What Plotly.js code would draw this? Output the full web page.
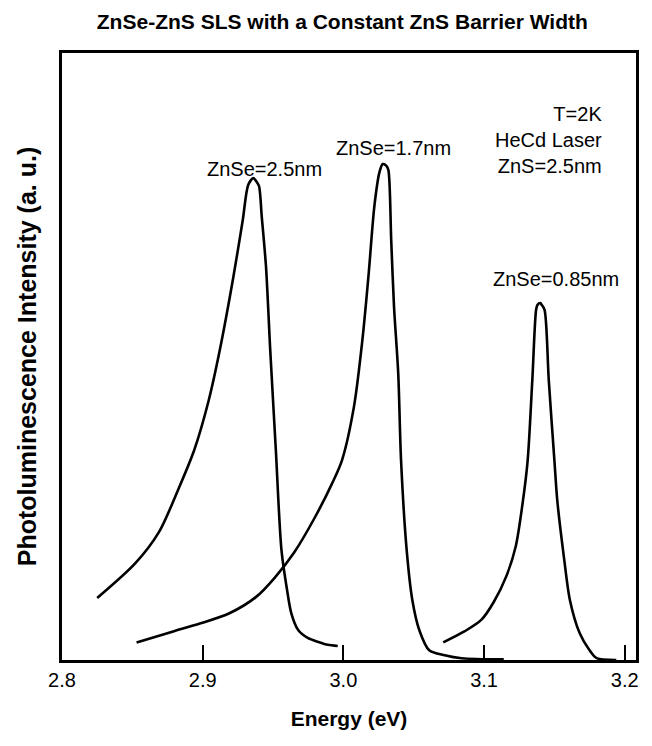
<!DOCTYPE html>
<html>
<head>
<meta charset="utf-8">
<script src="https://cdn.plot.ly/plotly-3.0.1.min.js"></script>
<style>html,body{margin:0;padding:0;background:#fff}#chart{width:652px;height:746px}</style>
</head>
<body>
<div id="chart"></div>
<script>
// Energy (eV) and PL intensity (a.u.)
const energy_25nm = [2.825, 2.852, 2.869, 2.883, 2.894, 2.9043, 2.9122, 2.9218, 2.9285, 2.9324, 2.936, 2.938, 2.940, 2.942, 2.945, 2.948, 2.952, 2.956, 2.960, 2.963, 2.968, 2.975, 2.982, 2.989, 2.996];
const pl_25nm     = [10.2, 15.9, 21.1, 28.3, 34.6, 42.8, 51.1, 63.1, 72.5, 78.3, 79.4, 78.9, 78.1, 73.0, 64.8, 51.1, 34.6, 18.1, 11.5, 7.7, 4.9, 3.6, 3.0, 2.5, 2.3];

const energy_17nm = [2.853, 2.879, 2.898, 2.919, 2.938, 2.951, 2.965, 2.980, 2.992, 2.999, 3.0075, 3.0135, 3.018, 3.022, 3.0257, 3.028, 3.0306, 3.032, 3.034, 3.036, 3.039, 3.041, 3.045, 3.049, 3.054, 3.061, 3.072, 3.084, 3.114];
const pl_17nm     = [2.9, 4.7, 6.0, 7.7, 10.4, 13.5, 17.7, 23.6, 29.1, 32.9, 41.7, 52.7, 63.7, 74.7, 80.4, 81.7, 81.4, 80.7, 69.2, 58.2, 47.2, 32.9, 18.1, 9.9, 4.9, 1.6, 0.8, 0.3, 0.1];

const energy_085nm = [3.071, 3.086, 3.098, 3.107, 3.116, 3.1225, 3.1275, 3.131, 3.1343, 3.137, 3.138, 3.140, 3.141, 3.143, 3.146, 3.150, 3.152, 3.157, 3.161, 3.168, 3.175, 3.180, 3.194];
const pl_085nm     = [2.9, 4.7, 6.6, 9.6, 13.9, 18.7, 26.0, 32.9, 46.1, 57.7, 58.5, 58.8, 58.5, 57.7, 46.1, 32.9, 26.4, 16.5, 9.9, 4.4, 1.6, 0.3, 0.0];

const tickValues = [2.8, 2.9, 3.0, 3.1, 3.2];
const tickLabels = ["2.8", "2.9", "3.0", "3.1", "3.2"];

const FONT = "Liberation Sans, Arial, Helvetica, sans-serif";
const lineStyle = {color: "#000", width: 2.6, shape: "spline", smoothing: 0.8};

const traces = [
  {x: energy_25nm, y: pl_25nm, mode: "lines", line: lineStyle, name: "ZnSe=2.5nm"},
  {x: energy_17nm, y: pl_17nm, mode: "lines", line: lineStyle, name: "ZnSe=1.7nm"},
  {x: energy_085nm, y: pl_085nm, mode: "lines", line: lineStyle, name: "ZnSe=0.85nm"}
];

const layout = {
  width: 652, height: 746,
  margin: {l: 62, r: 16, t: 53, b: 86},
  paper_bgcolor: "#fff", plot_bgcolor: "#fff",
  showlegend: false,
  font: {family: FONT, color: "#000", size: 20},
  title: {text: "<b>ZnSe-ZnS SLS with a Constant ZnS Barrier Width</b>", font: {family: FONT, size: 21, color: "#000"}, x: 0.525, xanchor: "center", y: 0.971, yanchor: "middle"},
  xaxis: {
    range: [2.8, 3.208], tickvals: tickValues, ticktext: tickLabels,
    ticks: "inside", ticklen: 15, tickwidth: 2, tickcolor: "#000",
    showline: true, linewidth: 3, linecolor: "#000", mirror: true,
    showgrid: false, zeroline: false,
    tickfont: {family: FONT, size: 20, color: "#000"},
    title: {text: "<b>Energy (eV)</b>", font: {family: FONT, size: 21, color: "#000"}, standoff: 22}
  },
  yaxis: {
    range: [0, 100], showticklabels: false, ticks: "",
    showline: true, linewidth: 3, linecolor: "#000", mirror: true,
    showgrid: false, zeroline: false,
    title: {text: "<b>Photoluminescence Intensity (a. u.)</b>", font: {family: FONT, size: 25, color: "#000"}, standoff: 16}
  },
  annotations: [
    {x: 2.944, y: 80.9, xref: "x", yref: "y", text: "ZnSe=2.5nm", showarrow: false, xanchor: "center", yanchor: "middle", font: {family: FONT, size: 20, color: "#000"}},
    {x: 3.0356, y: 84.3, xref: "x", yref: "y", text: "ZnSe=1.7nm", showarrow: false, xanchor: "center", yanchor: "middle", font: {family: FONT, size: 20, color: "#000"}},
    {x: 3.1513, y: 62.8, xref: "x", yref: "y", text: "ZnSe=0.85nm", showarrow: false, xanchor: "center", yanchor: "middle", font: {family: FONT, size: 20, color: "#000"}},
    {x: 3.1854, y: 85.6, xref: "x", yref: "y", text: "T=2K<br>HeCd Laser<br>ZnS=2.5nm", align: "right", showarrow: false, xanchor: "right", yanchor: "middle", font: {family: FONT, size: 20, color: "#000"}}
  ]
};

Plotly.newPlot("chart", traces, layout, {staticPlot: true, displayModeBar: false});
</script>
</body>
</html>
